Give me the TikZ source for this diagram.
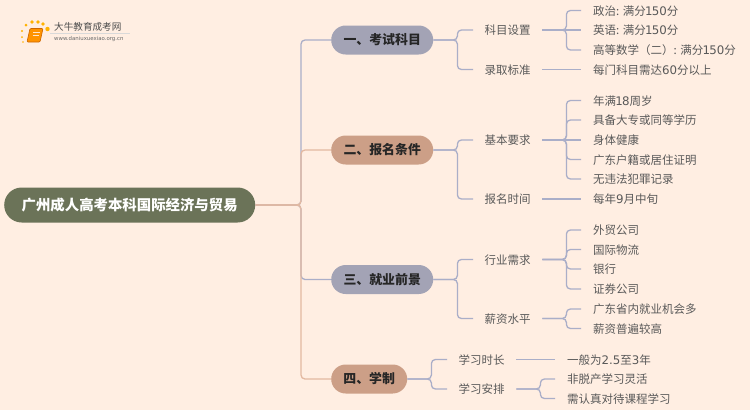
\documentclass[tikz,border=0pt]{standalone}
\usepackage{fontspec}
\usepackage{xcolor}
\usepackage{tikz}
\usetikzlibrary{calc,shapes.geometric}
\setmainfont{Noto Sans CJK SC}
\newfontfamily\digfont{DejaVu Sans}
\newcommand{\dg}[1]{{\digfont\fontsize{11.8}{14}\selectfont #1}}
\newcommand{\uno}{\kern-0.8pt 1\kern-0.8pt}
\definecolor{fondo}{RGB}{255,238,226}
\definecolor{raizverde}{RGB}{107,115,88}
\definecolor{ramaazul}{RGB}{163,163,181}
\definecolor{ramasalmon}{RGB}{204,159,135}
\definecolor{lineaazul}{RGB}{170,174,200}
\definecolor{lineasalmon}{RGB}{227,185,161}
\definecolor{textogris}{RGB}{89,89,89}
\tikzset{
    rootbox/.style={rounded corners=17.5pt,fill=raizverde,text=white,minimum height=35pt,minimum width=251pt,
        inner sep=0pt,font=\fontsize{14.4}{16}\selectfont\bfseries},
    branchbox/.style={rounded corners=14.5pt,minimum height=29pt,inner sep=0pt,anchor=west,text=black!85,
        font=\fontsize{12.9}{15}\selectfont\bfseries},
    midbox/.style={anchor=west,inner xsep=11.5pt,inner ysep=2pt,text height=9.5pt,text depth=0pt,text=textogris,
        font=\fontsize{11.5}{13}\selectfont},
    leafbox/.style={anchor=west,inner xsep=12pt,inner ysep=2pt,text height=9.5pt,text depth=0pt,text=textogris,
        font=\fontsize{11.5}{13}\selectfont},
    blink/.style={draw=lineaazul,line width=1.3pt,rounded corners=4pt},
    slink/.style={draw=lineasalmon,line width=1.3pt,rounded corners=4pt},
}
\begin{document}
\begin{tikzpicture}[x=1pt,y=-1pt]
    \useasboundingbox[fill=fondo] (0,0) rectangle (750,410);
    % logo
    \foreach \px/\py/\pr in {22/31/1.2,26/25/1.5,32/22/1.8,38/22/1.9,43/24/1.8,47.5/29/2.2,22/37/1,23/42/0.8}
        \fill[orange!60!yellow] (\px,\py) circle (\pr);
    \draw[draw=orange!80!black,fill=orange!85!yellow,rounded corners=1pt,line width=0.6pt]
        (30,28.5)--(43,28.5)--(40,42)--(27,42)--cycle;
    \draw[white!80!orange,line width=0.7pt] (33,32)--(40,32) (32.5,35)--(39,35);
    \node[anchor=west,inner sep=0pt,text=black!70,font=\fontsize{9.6}{11}\selectfont] (logotitulo) at (54,27) {大牛教育成考网};
    \node[anchor=west,inner sep=0pt,text=black!60,font=\digfont\fontsize{5.4}{7}\selectfont] (logoweb) at (54,39) {www.daniuxuexiao.org.cn};
    \draw[black!15,line width=0.5pt] (50,33.5)--(130,33.5);
    % centro
    \node[rootbox,anchor=west] (raiz) at (4,205) {广州成人高考本科国际经济与贸易};
    % ramas
    \node[branchbox,fill=ramaazul,minimum width=102pt] (ramaA) at (331,40) {一、考试科目};
    \node[branchbox,fill=ramasalmon,minimum width=102pt] (ramaB) at (331,150) {二、报名条件};
    \node[branchbox,fill=ramaazul,minimum width=102pt] (ramaC) at (331,279.5) {三、就业前景};
    \node[branchbox,fill=ramasalmon,minimum width=76pt] (ramaD) at (331,379) {四、学制};
    % nivel medio
    \node[midbox] (kemu) at (473,30) {科目设置};
    \node[midbox] (luqu) at (473,69.5) {录取标准};
    \node[midbox] (jiben) at (473,140) {基本要求};
    \node[midbox] (shijian) at (473,199) {报名时间};
    \node[midbox] (hangye) at (473,259.5) {行业需求};
    \node[midbox] (xinzi) at (473,318.5) {薪资水平};
    \node[midbox] (shichang) at (447,359.5) {学习时长};
    \node[midbox] (anpai) at (447,389) {学习安排};
    % hojas
    \node[leafbox] (a1) at (581,10.5) {政治: 满分\dg{\uno 50}分};
    \node[leafbox] (a2) at (581,30) {英语: 满分\dg{\uno 50}分};
    \node[leafbox] (a3) at (581,50) {高等数学（二）: 满分\dg{\uno 50}分};
    \node[leafbox] (a4) at (581,69.5) {每门科目需达\dg{60}分以上};
    \node[leafbox] (b1) at (581,100.5) {年满\dg{\uno 8}周岁};
    \node[leafbox] (b2) at (581,120) {具备大专或同等学历};
    \node[leafbox] (b3) at (581,140) {身体健康};
    \node[leafbox] (b4) at (581,159.5) {广东户籍或居住证明};
    \node[leafbox] (b5) at (581,179) {无违法犯罪记录};
    \node[leafbox] (b6) at (581,199) {每年\dg{9}月中旬};
    \node[leafbox] (c1) at (581,230) {外贸公司};
    \node[leafbox] (c2) at (581,249.5) {国际物流};
    \node[leafbox] (c3) at (581,269) {银行};
    \node[leafbox] (c4) at (581,289) {证券公司};
    \node[leafbox] (c5) at (581,309) {广东省内就业机会多};
    \node[leafbox] (c6) at (581,328.5) {薪资普遍较高};
    \node[leafbox] (d1) at (555,359.5) {一般为\dg{2.5}至\dg{3}年};
    \node[leafbox] (d2) at (555,379) {非脱产学习灵活};
    \node[leafbox] (d3) at (555,398.5) {需认真对待课程学习};
    % conectores
    \draw[blink] (raiz.east) -- (301,205) |- (ramaA.west);
    \draw[blink] (raiz.east) -- (301,205) |- (ramaC.west);
    \draw[slink] (raiz.east) -- (301,205) |- (ramaB.west);
    \draw[slink] (raiz.east) -- (301,205) |- (ramaD.west);
    \foreach \ra/\rb in {ramaA/kemu,ramaA/luqu,ramaB/jiben,ramaB/shijian,ramaC/hangye,ramaC/xinzi,ramaD/shichang,ramaD/anpai}
        \draw[blink] (\ra.east) -- ++(24,0) |- (\rb.west);
    \foreach \ra/\rb in {kemu/a1,kemu/a3,jiben/b1,jiben/b2,jiben/b4,jiben/b5,
        hangye/c1,hangye/c2,hangye/c3,hangye/c4,xinzi/c5,xinzi/c6,anpai/d2,anpai/d3}
        \draw[blink] (\ra.east) -- ++(24,0) |- (\rb.west);
    \foreach \ra/\rb in {kemu/a2,luqu/a4,jiben/b3,shijian/b6,shichang/d1}
        \draw[blink] (\ra.east) -- (\rb.west);
\end{tikzpicture}
\end{document}
